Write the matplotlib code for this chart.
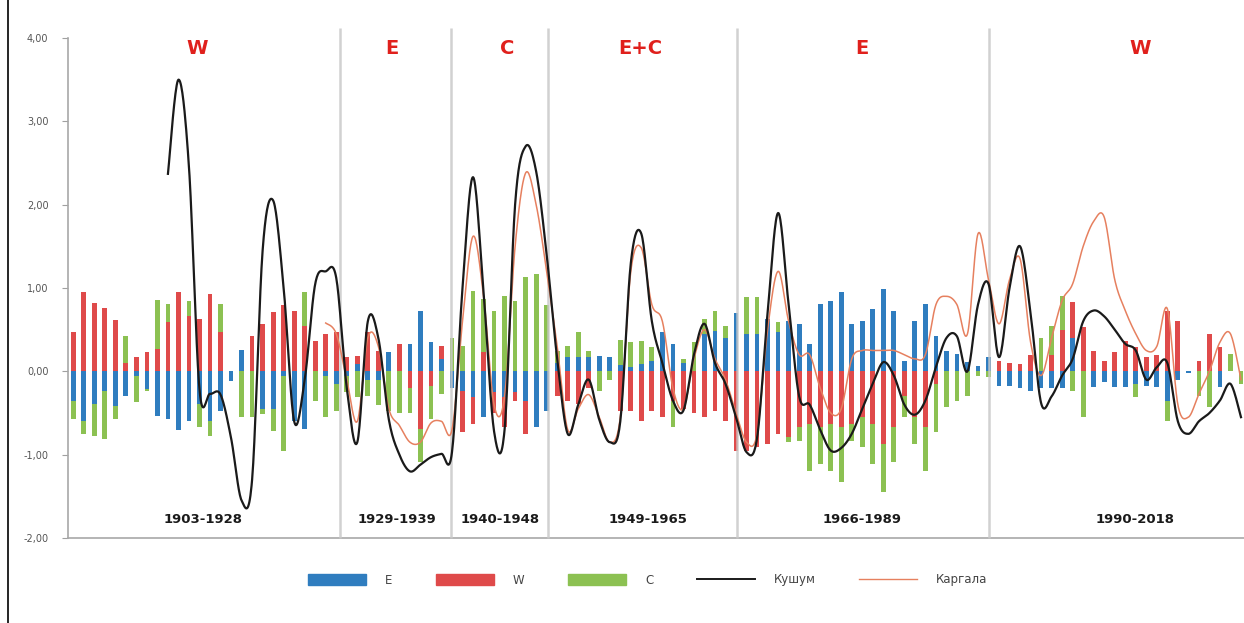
import numpy as np
import matplotlib
matplotlib.use("Agg")
import matplotlib.pyplot as plt
from matplotlib.patches import Patch
from matplotlib.lines import Line2D

plt.rcParams['font.family'] = ['DejaVu Sans']

years = list(range(1903, 2015))

E = [-0.35, -0.60, -0.39, -0.23, -0.41, -0.30, -0.05, -0.21, -0.53, -0.57,
     -0.70, -0.59, -0.39, -0.59, -0.47, -0.11, 0.26, 0.00, -0.45, -0.45,
     -0.05, -0.60, -0.69, 0.00, -0.05, -0.15, -0.05, 0.09, -0.10, -0.10,
     0.23, 0.00, 0.33, 0.73, 0.35, 0.15, -0.20, -0.23, -0.31, -0.55,
     -0.25, -0.31, -0.25, -0.35, -0.67, -0.47, 0.10, 0.17, 0.17, 0.17,
     0.19, 0.17, 0.08, 0.05, 0.09, 0.13, 0.47, 0.33, 0.10, 0.00,
     0.45, 0.49, 0.40, 0.70, 0.45, 0.45, 0.63, 0.47, 0.61, 0.57,
     0.33, 0.81, 0.85, 0.95, 0.57, 0.61, 0.75, 0.99, 0.73, 0.13,
     0.61, 0.81, 0.43, 0.25, 0.21, 0.11, 0.07, 0.17, -0.17, -0.17,
     -0.20, -0.23, -0.20, -0.20, -0.20, 0.40, 0.00, -0.19, -0.13, -0.19,
     -0.19, -0.15, -0.17, -0.19, -0.35, -0.10, -0.02, 0.00, 0.00, -0.19,
     0.00, 0.00]

W = [0.47, 0.95, 0.82, 0.76, 0.62, 0.10, 0.17, 0.23, 0.27, 0.59,
     0.95, 0.67, 0.63, 0.93, 0.47, 0.00, 0.00, 0.43, 0.57, 0.71,
     0.80, 0.73, 0.55, 0.37, 0.45, 0.47, 0.17, 0.10, 0.47, 0.25,
     0.00, 0.33, -0.20, -0.69, -0.17, 0.15, 0.00, -0.50, -0.32, 0.23,
     -0.25, -0.36, -0.10, -0.40, 0.00, 0.00, -0.30, -0.35, -0.39, -0.20,
     0.00, 0.00, -0.47, -0.47, -0.59, -0.47, -0.55, -0.35, -0.45, -0.50,
     -0.55, -0.47, -0.60, -0.95, -0.95, -0.91, -0.87, -0.75, -0.79, -0.67,
     -0.63, -0.67, -0.63, -0.67, -0.63, -0.55, -0.63, -0.87, -0.67, -0.30,
     -0.55, -0.67, -0.15, 0.00, 0.00, 0.00, 0.00, 0.00, 0.13, 0.10,
     0.09, 0.20, 0.00, 0.20, 0.50, 0.43, 0.53, 0.25, 0.13, 0.23,
     0.37, 0.29, 0.17, 0.20, 0.73, 0.61, 0.00, 0.13, 0.45, 0.29,
     0.00, 0.00]

C = [-0.22, -0.15, -0.38, -0.58, -0.16, 0.33, -0.32, -0.03, 0.59, 0.22,
     0.00, 0.18, -0.28, -0.18, 0.34, 0.00, -0.55, -0.55, -0.06, -0.26,
     -0.90, 0.00, 0.40, -0.35, -0.50, -0.32, -0.20, -0.31, -0.20, -0.30,
     -0.47, -0.50, -0.30, -0.40, -0.40, -0.27, 0.40, 0.30, 0.97, 0.64,
     0.73, 0.91, 0.85, 1.13, 1.17, 0.80, 0.15, 0.14, 0.30, 0.08,
     -0.23, -0.10, 0.30, 0.30, 0.28, 0.16, 0.00, -0.32, 0.05, 0.35,
     0.18, 0.24, 0.15, 0.00, 0.44, 0.44, 0.00, 0.12, -0.06, -0.16,
     -0.56, -0.44, -0.56, -0.66, -0.20, -0.36, -0.48, -0.58, -0.42, -0.25,
     -0.32, -0.52, -0.58, -0.43, -0.35, -0.29, -0.05, -0.07, 0.00, 0.00,
     0.00, 0.00, 0.40, 0.35, 0.40, -0.23, -0.55, 0.00, 0.00, 0.00,
     0.00, -0.16, 0.00, 0.00, -0.24, 0.00, 0.00, -0.30, -0.43, 0.00,
     0.21, -0.15]

nan = float('nan')
kushum = [nan] * 9 + [
    2.37, 3.50, 2.45, -0.22, -0.27, -0.28, -0.80, -1.55, -1.30, 1.45,
    2.05, 1.00, -0.60, -0.10, 1.05, 1.20, 1.12, -0.20, -0.85, 0.60,
    0.40, -0.58, -1.00, -1.20, -1.12, -1.03, -0.99, -0.97, 1.00, 2.33,
    0.95, -0.72, -0.70, 2.00, 2.70, 2.40, 1.40, 0.15, -0.75, -0.40,
    -0.10, -0.58, -0.85, -0.60, 1.30, 1.65, 0.60, 0.10, -0.35, -0.47,
    0.20, 0.57, 0.10, -0.15, -0.55, -0.97, -0.80, 0.70, 1.90, 0.80,
    -0.30, -0.40, -0.70, -0.95, -0.92, -0.75, -0.45, -0.15, 0.11, -0.05,
    -0.40, -0.52, -0.35, 0.05, 0.40, 0.42, 0.00, 0.80, 1.05, 0.17,
    1.00, 1.50, 0.70, -0.38, -0.30, -0.05, 0.15, 0.60, 0.73, 0.66,
    0.50, 0.33, 0.25, -0.10, 0.05, 0.10, -0.60, -0.75, -0.60, -0.50,
    -0.35, -0.15, -0.55]

kargala = [nan] * 24 + [
    0.58, 0.45, -0.10, -0.60, 0.40, 0.30, -0.45, -0.65, -0.85, -0.85,
    -0.62, -0.60, -0.70, 0.60, 1.62, 0.90, -0.40, -0.30, 1.50, 2.38,
    2.00, 1.20, 0.30, -0.70, -0.45, -0.28, -0.55, -0.85, -0.55, 1.20,
    1.48, 0.80, 0.60, -0.20, -0.45, 0.15, 0.50, 0.15, -0.10, -0.50,
    -0.85, -0.75, 0.50, 1.20, 0.60, 0.20, 0.20, -0.20, -0.50, -0.45,
    0.15, 0.25, 0.25, 0.25, 0.25, 0.20, 0.15, 0.20, 0.80, 0.90,
    0.80, 0.45, 1.65, 1.10, 0.57, 1.10, 1.35, 0.35, -0.05, 0.40,
    0.85, 1.05, 1.50, 1.80, 1.85, 1.10, 0.73, 0.45, 0.25, 0.30,
    0.75, -0.40, -0.55, -0.27, 0.00, 0.35, 0.45, -0.10]

section_labels = ["W", "E", "C", "E+C", "E", "W"]
period_labels = ["1903-1928", "1929-1939", "1940-1948", "1949-1965", "1966-1989", "1990-2018"]
yticks = [-2, -1, 0, 1, 2, 3, 4]

# layout
DPI = 100
fig = plt.figure(figsize=(12.44, 6.23), dpi=DPI)
W_PX, H_PX = 1244, 623
ax_left, ax_right = 68, 1244
ax_top, ax_bottom = 38, 538
ax = fig.add_axes([ax_left / W_PX, 1 - ax_bottom / H_PX,
                   (ax_right - ax_left) / W_PX, (ax_bottom - ax_top) / H_PX])

x = np.arange(len(years))
step = 10.52
xmax = -0.5 + (ax_right - ax_left) / step
ax.set_xlim(-0.5, xmax)
ax.set_ylim(-2, 4)

cE, cW, cC = "#2f7dbf", "#df4a4a", "#8cc152"

Ea, Wa, Ca = np.array(E), np.array(W), np.array(C)
pos_base = np.zeros(len(x))
neg_base = np.zeros(len(x))
bw = 0.45
for vals, col in [(Ea, cE), (Wa, cW), (Ca, cC)]:
    p = np.where(vals > 0, vals, 0)
    n = np.where(vals < 0, vals, 0)
    ax.bar(x, p, bw, bottom=pos_base, color=col, linewidth=0, zorder=2)
    ax.bar(x, n, bw, bottom=neg_base, color=col, linewidth=0, zorder=2)
    pos_base = pos_base + p
    neg_base = neg_base + n


def catmull(xs, ys, n=20):
    xs = np.asarray(xs, float)
    ys = np.asarray(ys, float)
    pts = np.column_stack([xs, ys])
    P = np.vstack([pts[0], pts, pts[-1]])
    outx, outy = [], []
    for k in range(1, len(P) - 2):
        p0, p1, p2, p3 = P[k - 1], P[k], P[k + 1], P[k + 2]
        c1 = p1 + (p2 - p0) / 6.0
        c2 = p2 - (p3 - p1) / 6.0
        t = np.linspace(0, 1, n)[:, None]
        seg = ((1 - t) ** 3) * p1 + 3 * ((1 - t) ** 2) * t * c1 + 3 * (1 - t) * t ** 2 * c2 + t ** 3 * p2
        outx.extend(seg[:, 0])
        outy.extend(seg[:, 1])
    return np.array(outx), np.array(outy)


def smooth_line(vals, **kw):
    v = np.array(vals, float)
    ok = ~np.isnan(v)
    sx, sy = catmull(x[ok], v[ok])
    ax.plot(sx, sy, **kw)


smooth_line(kargala, color="#e6805f", lw=1.1, zorder=4)
smooth_line(kushum, color="#1a1a1a", lw=1.6, zorder=5)

# section dividers
dividers_px = [340, 451, 548, 737, 989]
for px in dividers_px:
    xd = (px - ax_left) / step - 0.5
    ax.plot([xd, xd], [-2, 4.12], color="#c9c9c9", lw=1.8, alpha=0.85,
            zorder=3, clip_on=False, solid_capstyle='butt')

sec_px = [197, 392, 507, 640, 862, 1140]
for px, lab in zip(sec_px, section_labels):
    ax.text((px - ax_left) / step - 0.5, 3.88, lab, color="#e0201c",
            fontsize=14, fontweight="bold", ha="center", va="center", zorder=6)

per_px = [203, 397, 500, 648, 862, 1135]
for px, lab in zip(per_px, period_labels):
    ax.text((px - ax_left) / step - 0.5, -1.78, lab, color="#1a1a1a",
            fontsize=9.5, fontweight="bold", ha="center", va="center", zorder=6)

ax.set_yticks(yticks)
ax.set_yticklabels([f"{t:.2f}".replace(".", ",") for t in yticks],
                   fontsize=7, color="#555555")
ax.tick_params(axis='y', length=4, width=0.8, color="#a0a0a0", pad=10)
ax.set_xticks([])
for s in ["top", "right"]:
    ax.spines[s].set_visible(False)
ax.spines["left"].set_color("#a8a8a8")
ax.spines["left"].set_linewidth(1.2)
ax.spines["bottom"].set_color("#a8a8a8")
ax.spines["bottom"].set_linewidth(1.2)

handles = [Patch(color=cE, label="E"), Patch(color=cW, label="W"),
           Patch(color=cC, label="C"),
           Line2D([], [], color="#1a1a1a", lw=1.4, label="Кушум"),
           Line2D([], [], color="#e6805f", lw=1.0, label="Каргала")]
leg = fig.legend(handles=handles, loc="center", bbox_to_anchor=(648 / W_PX, 1 - 580 / H_PX),
                 ncol=5, frameon=False, fontsize=8.5, handlelength=4.9, handleheight=1.0,
                 handletextpad=1.6, columnspacing=3.7)
for t in leg.get_texts():
    t.set_color("#444444")

# outer frame (left)
fig.add_artist(Line2D([8 / W_PX, 8 / W_PX], [0, 1], color="black", lw=1.2,
                      transform=fig.transFigure))

fig.savefig("out.png", dpi=DPI)
